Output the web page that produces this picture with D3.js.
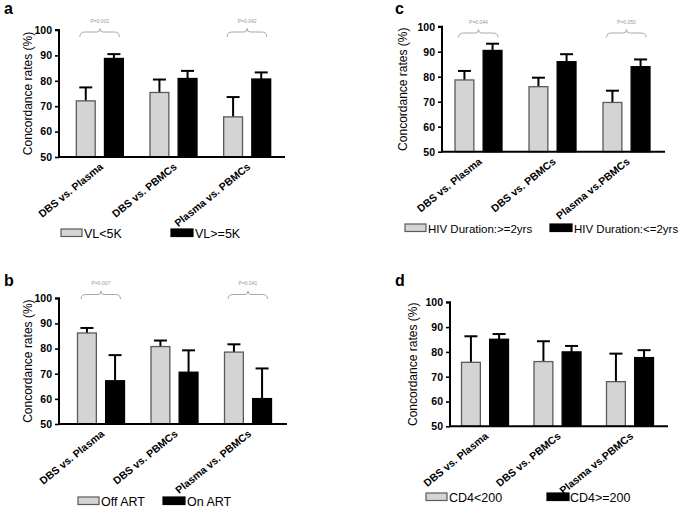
<!DOCTYPE html>
<html><head><meta charset="utf-8">
<script src="https://cdn.jsdelivr.net/npm/d3@7"></script>
<style>body{margin:0;background:#fff}svg{display:block;font-family:"Liberation Sans",Arial,sans-serif}</style>
</head><body>
<svg id="chart" width="690" height="508"></svg>
<script>
// ---- data ----
const categoriesAB = ["DBS vs. Plasma", "DBS vs. PBMCs", "Plasma vs. PBMCs"];
const categoriesCD = ["DBS vs. Plasma", "DBS vs. PBMCs", "Plasma vs.PBMCs"];
const yTicks = [50, 60, 70, 80, 90, 100];

// panel a: viral load
const seriesA = ["VL<5K", "VL>=5K"];
const aLow = [72.1, 75.4, 65.8];
const aLowErr = [77.4, 80.5, 73.6];
const aHigh = [88.8, 80.9, 80.7];
const aHighErr = [90.5, 83.9, 83.3];
const pA = [{g: 0, label: "P=0.002"}, {g: 2, label: "P=0.042"}];

// panel b: ART
const seriesB = ["Off ART", "On ART"];
const bOff = [86.2, 80.8, 78.6];
const bOffErr = [88.2, 83.2, 81.7];
const bOn = [67.2, 70.6, 60.1];
const bOnErr = [77.4, 79.3, 72.1];
const pB = [{g: 0, label: "P=0.007"}, {g: 2, label: "P=0.041"}];

// panel c: HIV duration
const seriesC = ["HIV Duration:>=2yrs", "HIV Duration:<=2yrs"];
const cLong = [78.7, 76.0, 69.7];
const cLongErr = [82.3, 79.6, 74.4];
const cShort = [90.5, 86.0, 84.0];
const cShortErr = [93.2, 89.0, 86.9];
const pC = [{g: 0, label: "P=0.044"}, {g: 2, label: "P=0.050"}];

// panel d: CD4
const seriesD = ["CD4<200", "CD4>=200"];
const dLow = [75.8, 76.1, 68.0];
const dLowErr = [86.3, 84.3, 79.3];
const dHigh = [85.1, 80.0, 77.7];
const dHighErr = [87.2, 82.4, 80.7];
const pD = [];

// ---- layout (positions only) ----
const panels = [
  {letter: "a", lx: 4, ly: 13.5, axisX: 59, y100: 30, y50: 157, xr: [63, 284], xEnd: 285,
   titleX: 28, cats: categoriesAB, series: seriesA, vals: [aLow, aHigh], errs: [aLowErr, aHighErr], p: pA,
   brTop: 32, brBot: 37, pY: 23,
   legY: 229, leg: [[61, 84], [171, 195]], legFont: 12.5},
  {letter: "b", lx: 4, ly: 286, axisX: 59, y100: 298.3, y50: 424, xr: [64.25, 284.75], xEnd: 287,
   titleX: 28, cats: categoriesAB, series: seriesB, vals: [bOff, bOn], errs: [bOffErr, bOnErr], p: pB,
   brTop: 294.5, brBot: 299, pY: 285,
   legY: 497, leg: [[78, 101], [163, 187]], legFont: 12.5},
  {letter: "c", lx: 395, ly: 14, axisX: 442, y100: 26.7, y50: 151.7, xr: [441.5, 663.5], xEnd: 665,
   titleX: 403, cats: categoriesCD, series: seriesC, vals: [cLong, cShort], errs: [cLongErr, cShortErr], p: pC,
   brTop: 33, brBot: 37.5, pY: 24,
   legY: 224, leg: [[405, 428], [550, 574]], legFont: 11.5},
  {letter: "d", lx: 395, ly: 286, axisX: 450, y100: 302.3, y50: 426.3, xr: [448.75, 666.25], xEnd: 668,
   titleX: 413, cats: categoriesCD, series: seriesD, vals: [dLow, dHigh], errs: [dLowErr, dHighErr], p: pD,
   brTop: 0, brBot: 0, pY: 0,
   legY: 493, leg: [[426, 449], [547, 570]], legFont: 12.5}
];

const fills = ["#d4d4d4", "#000"];
const strokes = ["#5a5a5a", "#000"];
const svg = d3.select("#chart");

panels.forEach(P => {
  const g = svg.append("g");
  const y = d3.scaleLinear().domain([50, 100]).range([P.y50, P.y100]);
  const x0 = d3.scaleBand().domain(P.cats).range(P.xr).padding(0);
  const x1 = d3.scaleBand().domain([0, 1]).range([-23.5, 23.5]).paddingInner(0.33);

  // panel letter
  g.append("text").attr("x", P.lx).attr("y", P.ly).attr("font-size", 16).attr("font-weight", "bold").text(P.letter);

  // bars
  P.cats.forEach((c, i) => {
    const cx = x0(c) + x0.bandwidth() / 2;
    [0, 1].forEach(s => {
      const bx = cx + x1(s);
      const bw = x1.bandwidth();
      const v = P.vals[s][i], e = P.errs[s][i];
      const mid = bx + bw / 2;
      g.append("line").attr("x1", mid).attr("x2", mid).attr("y1", y(v)).attr("y2", y(e))
        .attr("stroke", "#000").attr("stroke-width", 2);
      g.append("line").attr("x1", mid - 6.5).attr("x2", mid + 6.5).attr("y1", y(e)).attr("y2", y(e))
        .attr("stroke", "#000").attr("stroke-width", 2);
      g.append("rect").attr("x", bx).attr("y", y(v)).attr("width", bw).attr("height", y(50) - y(v))
        .attr("fill", fills[s]).attr("stroke", strokes[s]).attr("stroke-width", 1.3);
    });
  });

  // y axis
  const yAxis = d3.axisLeft(y).tickValues(yTicks).tickSize(4).tickPadding(3);
  const ya = g.append("g").attr("transform", `translate(${P.axisX},0)`).call(yAxis);
  ya.select(".domain").attr("stroke-width", 2).attr("d", `M-4,${P.y100}H0V${P.y50}`);
  ya.selectAll(".tick line").attr("stroke-width", 1.6);
  ya.selectAll(".tick text").attr("font-size", 10.5).attr("font-weight", "bold").attr("fill", "#000")
    .attr("font-family", "Liberation Sans, Arial, sans-serif");

  // x axis line
  g.append("line").attr("x1", P.axisX - 1).attr("x2", P.xEnd).attr("y1", P.y50).attr("y2", P.y50)
    .attr("stroke", "#000").attr("stroke-width", 2);

  // x labels
  P.cats.forEach(c => {
    const cx = x0(c) + x0.bandwidth() / 2;
    g.append("text").attr("transform", `translate(${cx + 4},${P.y50 + 11}) rotate(-39)`)
      .attr("text-anchor", "end").attr("font-size", 10.5).attr("font-weight", "bold").text(c);
  });

  // y title
  const midY = (P.y50 + P.y100) / 2;
  g.append("text").attr("transform", `translate(${P.titleX + 4},${midY}) rotate(-90)`)
    .attr("text-anchor", "middle").attr("font-size", 12).text("Concordance rates (%)");

  // significance brackets
  P.p.forEach(pp => {
    const cx = x0(P.cats[pp.g]) + x0.bandwidth() / 2;
    const xa = cx - 20, xb = cx + 19.5, t = P.brTop, b = P.brBot;
    const path = `M${xa},${b} Q${xa},${t} ${xa + 5},${t} L${cx - 3},${t} Q${cx},${t} ${cx},${t - 3.5} Q${cx},${t} ${cx + 3},${t} L${xb - 5},${t} Q${xb},${t} ${xb},${b}`;
    g.append("path").attr("d", path).attr("fill", "none").attr("stroke", "#a8a8a8").attr("stroke-width", 1);
    g.append("text").attr("x", cx).attr("y", P.pY).attr("text-anchor", "middle")
      .attr("font-size", 5).attr("fill", "#999").text(pp.label);
  });

  // legend
  P.series.forEach((name, s) => {
    const [rx, tx] = P.leg[s];
    g.append("rect").attr("x", rx).attr("y", P.legY).attr("width", s ? 22 : 21).attr("height", 7.5)
      .attr("fill", fills[s]).attr("stroke", strokes[s]).attr("stroke-width", 1.2);
    g.append("text").attr("x", tx).attr("y", P.legY + 8.5).attr("font-size", P.legFont).text(name);
  });
});
</script>
</body></html>
